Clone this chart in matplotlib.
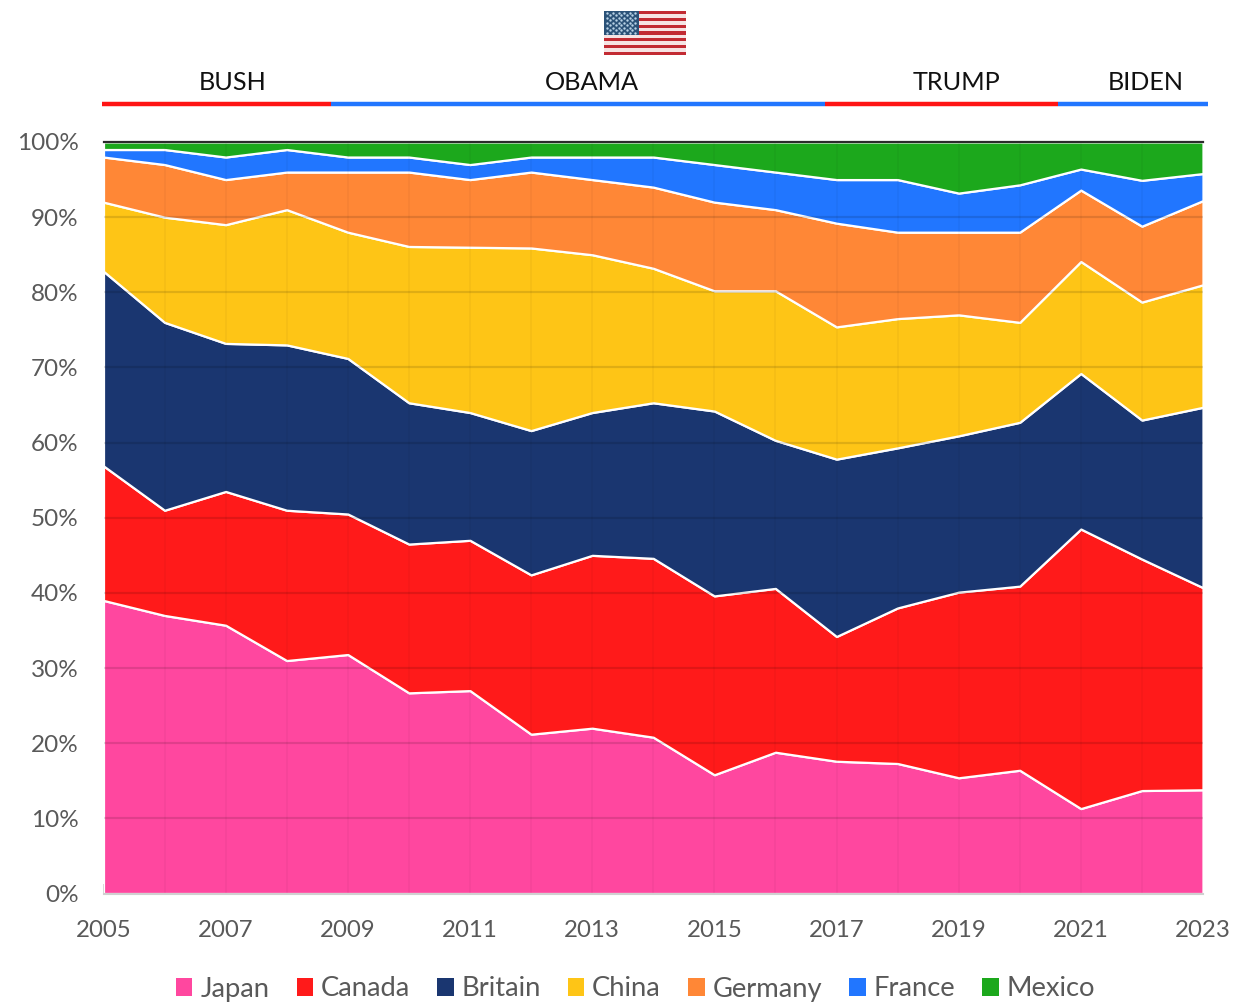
import numpy as np
import matplotlib
matplotlib.use("Agg")
import matplotlib.pyplot as plt
from matplotlib.patches import Rectangle

plt.rcParams['font.family'] = ['Lato', 'DejaVu Sans']

years = list(range(2005, 2024))
japan = [39, 37, 35.7, 31, 31.8, 26.7, 27, 21.2, 22, 20.8, 15.8, 18.8, 17.6, 17.3, 15.4, 16.4, 11.3, 13.7, 13.8]
canada = [17.9, 14, 17.8, 20, 18.7, 19.8, 20, 21.2, 23, 23.8, 23.8, 21.8, 16.6, 20.7, 24.7, 24.5, 37.2, 30.8, 26.9]
britain = [25.9, 25, 19.7, 22, 20.7, 18.8, 17, 19.2, 19, 20.7, 24.6, 19.7, 23.6, 21.3, 20.8, 21.8, 20.7, 18.5, 24.0]
china = [9.2, 14, 15.8, 18, 16.8, 20.8, 22, 24.3, 21, 17.9, 16, 19.9, 17.6, 17.2, 16.1, 13.3, 14.9, 15.7, 16.3]
germany = [6, 7, 6, 5, 8, 9.9, 9, 10.1, 10, 10.8, 11.8, 10.8, 13.8, 11.5, 11, 12, 9.5, 10.1, 11.2]
france = [1, 2, 3, 3, 2, 2, 2, 2, 3, 4, 5, 5, 5.8, 7, 5.2, 6.3, 2.8, 6.1, 3.6]
mexico = [1, 1, 2, 1, 2, 2, 3, 2, 2, 2, 3, 4, 5, 5, 6.8, 5.7, 3.6, 5.1, 4.2]

names = ['Japan', 'Canada', 'Britain', 'China', 'Germany', 'France', 'Mexico']
colors = ['#FF479F', '#FF1A1A', '#1A3670', '#FEC516', '#FF8736', '#2176FF', '#1CA81C']
presidents = ['BUSH', 'OBAMA', 'TRUMP', 'BIDEN']
term_edges = [2004.98, 2008.72, 2016.81, 2020.63, 2023.08]
term_centers = [2007.12, 2013.0, 2018.96, 2022.07]
term_colors = ['#FF1414', '#2176FF', '#FF1414', '#2176FF']

W, H = 1241, 1002
fig = plt.figure(figsize=(W / 100, H / 100), dpi=100)
ax = fig.add_axes([103.5 / W, 1 - 893.5 / H, 1099.5 / W, 751.5 / H])

series = [japan, canada, britain, china, germany, france, mexico]
ax.stackplot(years, series, colors=colors, edgecolor='white', linewidth=1.6, zorder=2)

ax.set_xlim(2005, 2023)
ax.set_ylim(0, 100)
for y in range(10, 100, 10):
    ax.axhline(y, color='#000000', alpha=0.12, lw=1.6, zorder=3)
for x in years[1:-1]:
    ax.axvline(x, color='#000000', alpha=0.04, lw=1.2, zorder=3)
ax.axhline(100, color='#2b2b2b', lw=1.6, zorder=4, clip_on=False)

for s in ['top', 'right', 'left']:
    ax.spines[s].set_visible(False)
ax.spines['bottom'].set_color('#D0D0D0')
ax.spines['bottom'].set_linewidth(1.5)
ax.spines['bottom'].set_zorder(5)
ax.set_xticks(years)
ax.set_xticklabels([str(y) if (y - 2005) % 2 == 0 else '' for y in years])
ax.tick_params(axis='x', direction='in', length=7, width=1.3, color='#D5D5D5', labelsize=17.3,
               labelcolor='#595959', pad=19)
ax.set_yticks(range(0, 101, 10))
ax.set_yticklabels([f'{v}%' for v in range(0, 101, 10)])
ax.tick_params(axis='y', length=0, labelsize=17.5, labelcolor='#595959', pad=18)
for t in ax.get_xticklines():
    t.set_zorder(6)

# presidents band
band_y = 105.0
label_y = 107.95
for i, p in enumerate(presidents):
    ax.plot(term_edges[i:i + 2], [band_y, band_y], color=term_colors[i], lw=3.2,
            solid_capstyle='butt', clip_on=False)
    ax.text(term_centers[i], label_y, p, ha='center', va='center', fontsize=18.2, color='#111111')

# flag
fax = fig.add_axes([604 / W, 1 - 55 / H, 82 / W, 44 / H])
fax.axis('off')
fax.set_xlim(0, 1.9)
fax.set_ylim(13, 0)
for r in range(13):
    fax.add_patch(Rectangle((0, r), 1.9, 1, color='#C22B33' if r % 2 == 0 else '#F6E4E4', lw=0))
fax.add_patch(Rectangle((0, 0), 0.8, 7, color='#2B5278', lw=0, zorder=2))
sx, sy = [], []
for r in range(9):
    n = 6 if r % 2 == 0 else 5
    for c in range(n):
        sx.append(0.08 + 0.128 * c + (0 if r % 2 == 0 else 0.064))
        sy.append(0.5 + 0.75 * r)
fax.scatter(sx, sy, s=3, color='#B8D2E6', lw=0, zorder=3)

# legend
handles = [Rectangle((0, 0), 1, 1, color=c, lw=0) for c in colors]
leg = fig.legend(handles, names, loc='center', bbox_to_anchor=(635.5 / W, 1 - 989 / H), ncol=7, frameon=False,
                 fontsize=19.7, labelcolor='#595959', handlelength=0.6, handleheight=0.6,
                 handletextpad=0.28, columnspacing=1.0, borderpad=0, borderaxespad=0)

fig.savefig('out.png', dpi=100)
